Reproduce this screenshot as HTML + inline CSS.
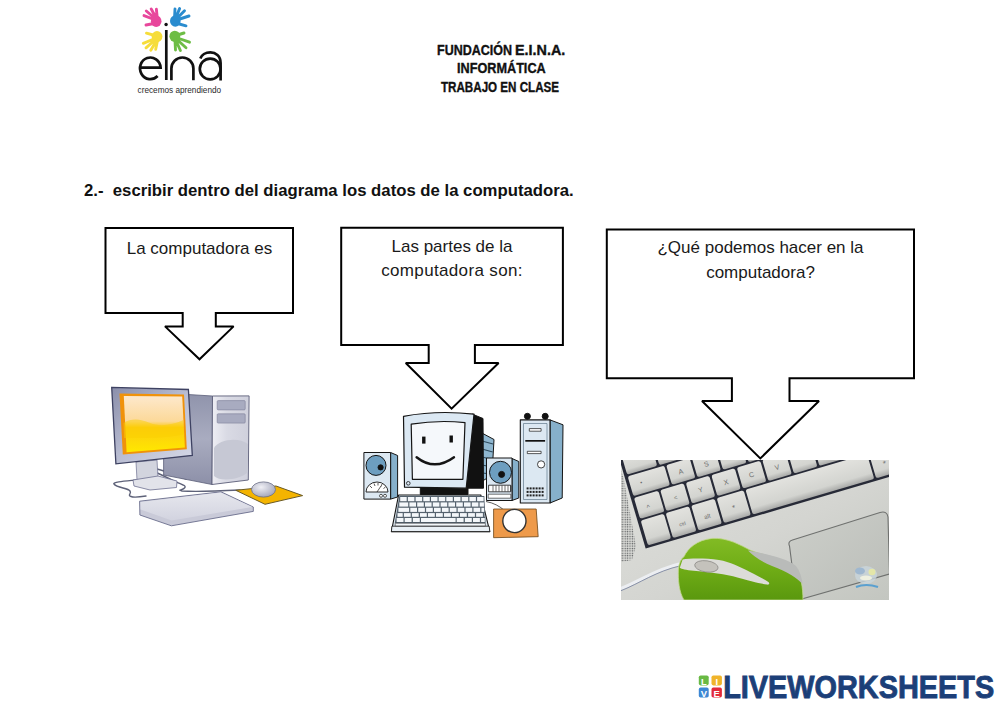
<!DOCTYPE html>
<html><head><meta charset="utf-8">
<style>
html,body{margin:0;padding:0;background:#fff;}
body{width:1000px;height:707px;position:relative;overflow:hidden;font-family:"Liberation Sans",sans-serif;}
.t{position:absolute;white-space:nowrap;line-height:1;}
.hd{font-weight:bold;font-size:14.5px;color:#111;-webkit-text-stroke:0.35px #111;transform-origin:0 0;}
.co{font-size:17px;color:#1a1a1a;text-align:center;line-height:23.7px;}
svg{position:absolute;left:0;top:0;}
</style></head><body>
<svg width="1000" height="707" viewBox="0 0 1000 707">
  <defs>
    <linearGradient id="side1" x1="0" y1="0" x2="0" y2="1">
      <stop offset="0" stop-color="#8f93ab"/><stop offset="0.5" stop-color="#a9acc0"/><stop offset="1" stop-color="#8d90a8"/>
    </linearGradient>
    <linearGradient id="front1" x1="0" y1="0" x2="1" y2="0">
      <stop offset="0" stop-color="#eeeef4"/><stop offset="0.4" stop-color="#d9dae4"/><stop offset="1" stop-color="#cfd0dc"/>
    </linearGradient>
    <linearGradient id="bez1" x1="0" y1="0" x2="1" y2="1">
      <stop offset="0" stop-color="#8a8eaa"/><stop offset="0.5" stop-color="#b9bdd2"/><stop offset="1" stop-color="#d6d9e8"/>
    </linearGradient>
    <linearGradient id="scr1" x1="0" y1="0" x2="0" y2="1">
      <stop offset="0" stop-color="#fde8cc"/><stop offset="0.45" stop-color="#fcd999"/><stop offset="0.56" stop-color="#fcca10"/><stop offset="1" stop-color="#ffe800"/>
    </linearGradient>
    <linearGradient id="kb1" x1="0" y1="0" x2="0" y2="1">
      <stop offset="0" stop-color="#e6e7ee"/><stop offset="1" stop-color="#d2d3df"/>
    </linearGradient>
    <radialGradient id="mouse1" cx="0.4" cy="0.35" r="0.7">
      <stop offset="0" stop-color="#f0f0f5"/><stop offset="1" stop-color="#a0a3b8"/>
    </radialGradient>
  </defs>
  <!-- IMAGE 1: desktop pc -->
  <g id="img1">
    <!-- cables -->
    <g fill="none" stroke="#5e6279" stroke-width="1.4" stroke-linecap="round">
      <path d="M136,480 C126,481 112,482 114,484 C117,488 128,488 130,491 C132,494 127,495 131,496.5 C134,498 140,497 146,496"/>
      <path d="M155,472 C162,475 168,478 176,482 C184,485 187,486 184,488.5 C180,490.5 178,490 182,491 C195,492 220,491 240,490"/>
      <path d="M157,469 C165,471 175,475 186,479"/>
    </g>
    <!-- tower side -->
    <polygon points="163.6,393 212.5,396 212,484.5 163.6,475" fill="url(#side1)" stroke="#5b5e78" stroke-width="0.8"/>
    <!-- tower front -->
    <polygon points="212.5,396 249.1,395.9 248.3,480 212,484.5" fill="url(#front1)" stroke="#5b5e78" stroke-width="0.9"/>
    <rect x="217.2" y="400.6" width="28" height="9.3" rx="1" fill="#a8abc0" stroke="#7d8099" stroke-width="0.6"/>
    <rect x="217.2" y="413.8" width="28" height="9.3" rx="1" fill="#a8abc0" stroke="#7d8099" stroke-width="0.6"/>
    <path d="M214,448 C218,440 238,436 248,444 L248,472 C240,480 220,482 214,476 Z" fill="#c6c8d4"/>
    <!-- monitor stand -->
    <polygon points="136,462 157,460 158,478 137,480" fill="#d2d4de" stroke="#6d7090" stroke-width="0.7"/>
    <polygon points="133,480 158,476 177,481 176.5,487.5 150,490 134,486" fill="#e2e3ea" stroke="#6d7090" stroke-width="0.8"/>
    <!-- monitor -->
    <polygon points="111.7,387.4 188.4,389.5 192.3,455.3 115.9,463.8" fill="url(#bez1)" stroke="#3e4262" stroke-width="1.3"/>
    <polygon points="119.5,393.5 184,394.4 186.8,449.3 122.8,454.6" fill="#f0920a"/>
    <polygon points="123.8,396 182.2,396.5 184.9,447.4 126.6,452.2" fill="url(#scr1)"/>
    <path d="M123.5,423 C132,418 140,419 150,423 C160,427 172,425 183.5,420 L184.2,434 C170,438 150,438 124.1,438 Z" fill="#fcd000" opacity="0.5"/>
    <!-- keyboard -->
    <polygon points="139.6,501.2 221,491.8 253.3,507 253.3,511.4 171.4,525.8 139.9,515" fill="#c9cad8" stroke="#6a6d8c" stroke-width="0.9"/>
    <polygon points="140.5,502 220.6,492.6 252.2,507 171.6,520.6 140.6,509.5" fill="url(#kb1)"/>
    <!-- mouse pad & mouse -->
    <polygon points="235.8,490.3 276,486 302.6,495.6 265,504.3" fill="#f4b400" stroke="#6b5a22" stroke-width="1"/>
    <ellipse cx="263.5" cy="489.5" rx="12" ry="7.6" fill="url(#mouse1)" stroke="#6a6d85" stroke-width="0.8"/>
  </g>
  <!-- IMAGE 2: cartoon pc -->
  <g id="img2" stroke="#151515" stroke-width="1" stroke-linejoin="round">
    <!-- left speaker -->
    <polygon points="390.6,452.5 397.6,455.5 397.6,497 390.6,499.1" fill="#86b0cb"/>
    <polygon points="363.9,452.5 390.6,452.5 390.6,499.1 363.9,499.1" fill="#dce8f2"/>
    <circle cx="376" cy="465.4" r="10" fill="#6d9ec0"/>
    <circle cx="380.6" cy="467.4" r="2.6" fill="#111"/>
    <path d="M366,492 A11,10 0 0 1 388,492 Z" fill="#fff" stroke-width="0.9"/>
    <path d="M370,486 L372,488 M374,483.5 L375,486 M378,483 L378,485.5 M382,484 L381,486.5 M385.5,487 L383.5,488.5 M377,492 L381,486" fill="none" stroke-width="0.7"/>
    <circle cx="381" cy="495.8" r="1.5" fill="#fff" stroke-width="0.7"/><circle cx="385" cy="495.8" r="1.5" fill="#fff" stroke-width="0.7"/>
    <!-- monitor back -->
    <polygon points="480,432 494,439.5 492,475 481,482" fill="#8fb7d0"/>
    <path d="M482,441 L493,444 M482,449 L492.7,452 M482,457 L492.4,459.5 M482,465 L492,467 M482,473 L491.6,474" fill="none" stroke="#2d4a5e" stroke-width="1.2"/>
    <polygon points="472,414 483,418.5 483.5,488.2 466,488.2" fill="#111"/>
    <!-- monitor base -->
    <polygon points="420.3,487 468,487 468,494.5 420.3,494.5" fill="#111"/>
    <!-- monitor front -->
    <path d="M403.5,416.3 Q438,410 474,414.2 L466.2,488.2 L404.5,487.2 Z" fill="#dbe8f3" stroke-width="1.2"/>
    <path d="M411.2,424.2 Q438,419.8 465,422.6 L462.9,479.3 L412.4,479.3 Z" fill="#f5f8fb" stroke-width="1.2"/>
    <rect x="422.1" y="436.6" width="3.4" height="7" fill="#111" stroke="none"/>
    <rect x="449.5" y="435.5" width="3.4" height="7" fill="#111" stroke="none"/>
    <path d="M416.6,457.2 Q434.5,471.5 454,457.2" fill="none" stroke-width="2.4" stroke-linecap="round"/>
    <circle cx="408.3" cy="483.3" r="1.8" fill="none" stroke-width="0.8"/>
    <!-- keyboard -->
    <polygon points="398.6,495 480.8,495 489.8,531.6 391.4,531.6" fill="#dde8f1" stroke-width="1.1"/>
    <polygon points="391.9,526.2 489.2,526.2 489.8,531.6 391.4,531.6" fill="#e9f0f6" stroke-width="0.8"/>
    <polygon points="399.3,496.1 484.3,496.1 485.6,523 394.8,523" fill="#55626e" stroke="none"/>
    <rect x="395.2" y="523.3" width="90.2" height="2.6" fill="#f2f6fa" stroke-width="0.5"/>
    <g fill="#f4f7fa" stroke="none">
<rect x="400.2" y="497.0" width="6.5" height="4.2"/>
<rect x="407.9" y="497.0" width="6.5" height="4.2"/>
<rect x="415.6" y="497.0" width="6.5" height="4.2"/>
<rect x="423.3" y="497.0" width="6.5" height="4.2"/>
<rect x="431.0" y="497.0" width="6.5" height="4.2"/>
<rect x="438.7" y="497.0" width="6.5" height="4.2"/>
<rect x="446.3" y="497.0" width="6.5" height="4.2"/>
<rect x="454.0" y="497.0" width="6.5" height="4.2"/>
<rect x="461.7" y="497.0" width="6.5" height="4.2"/>
<rect x="469.4" y="497.0" width="6.5" height="4.2"/>
<rect x="477.1" y="497.0" width="6.5" height="4.2"/>
<rect x="399.3" y="502.4" width="8.9" height="4.2"/>
<rect x="409.4" y="502.4" width="6.6" height="4.2"/>
<rect x="417.2" y="502.4" width="6.6" height="4.2"/>
<rect x="425.0" y="502.4" width="6.6" height="4.2"/>
<rect x="432.8" y="502.4" width="6.6" height="4.2"/>
<rect x="440.6" y="502.4" width="6.6" height="4.2"/>
<rect x="448.4" y="502.4" width="6.6" height="4.2"/>
<rect x="456.2" y="502.4" width="6.6" height="4.2"/>
<rect x="464.0" y="502.4" width="6.6" height="4.2"/>
<rect x="471.8" y="502.4" width="6.6" height="4.2"/>
<rect x="479.6" y="502.4" width="4.3" height="4.2"/>
<rect x="398.4" y="507.8" width="10.7" height="4.1"/>
<rect x="410.3" y="507.8" width="6.7" height="4.1"/>
<rect x="418.2" y="507.8" width="6.7" height="4.1"/>
<rect x="426.1" y="507.8" width="6.7" height="4.1"/>
<rect x="434.0" y="507.8" width="6.7" height="4.1"/>
<rect x="441.9" y="507.8" width="6.7" height="4.1"/>
<rect x="449.8" y="507.8" width="6.7" height="4.1"/>
<rect x="457.7" y="507.8" width="6.7" height="4.1"/>
<rect x="465.6" y="507.8" width="6.7" height="4.1"/>
<rect x="473.5" y="507.8" width="6.7" height="4.1"/>
<rect x="481.4" y="507.8" width="2.8" height="4.1"/>
<rect x="397.5" y="513.1" width="5.2" height="3.7"/>
<rect x="403.9" y="513.1" width="6.8" height="3.7"/>
<rect x="411.9" y="513.1" width="6.8" height="3.7"/>
<rect x="420.0" y="513.1" width="6.8" height="3.7"/>
<rect x="428.0" y="513.1" width="6.8" height="3.7"/>
<rect x="436.0" y="513.1" width="6.8" height="3.7"/>
<rect x="444.0" y="513.1" width="6.8" height="3.7"/>
<rect x="452.0" y="513.1" width="6.8" height="3.7"/>
<rect x="460.0" y="513.1" width="6.8" height="3.7"/>
<rect x="468.1" y="513.1" width="6.8" height="3.7"/>
<rect x="476.1" y="513.1" width="6.8" height="3.7"/>
<rect x="484.1" y="513.1" width="0.4" height="3.7"/>
<rect x="396.6" y="518.0" width="6.9" height="4.0"/>
<rect x="404.7" y="518.0" width="6.9" height="4.0"/>
<rect x="412.9" y="518.0" width="6.9" height="4.0"/>
<rect x="421.0" y="518.0" width="34.6" height="4.0"/>
<rect x="456.7" y="518.0" width="6.9" height="4.0"/>
<rect x="464.9" y="518.0" width="6.9" height="4.0"/>
<rect x="473.0" y="518.0" width="6.9" height="4.0"/>
<rect x="481.1" y="518.0" width="3.7" height="4.0"/>
    </g>
    <!-- right speaker -->
    <polygon points="512,458.5 518.8,461.5 518.8,498 512,500.5" fill="#86b0cb"/>
    <polygon points="486.5,458 512,458 512,500.5 486.5,500.5" fill="#dce8f2"/>
    <circle cx="500.5" cy="472.3" r="11" fill="#6d9ec0"/>
    <circle cx="501.6" cy="474.4" r="3" fill="#111"/>
    <rect x="488.6" y="485.2" width="22" height="6.6" fill="#fff" stroke-width="0.8"/>
    <path d="M493,485.5 v6 M496,485.5 v6 M499,485.5 v6 M502,485.5 v6 M505,485.5 v6 M508,485.5 v6 M511,485.5 v6" fill="none" stroke-width="0.6"/>
    <rect x="488.2" y="494.2" width="22.6" height="4" fill="#fff" stroke-width="0.6"/>
    <!-- tower -->
    <polygon points="550,419.9 563,424.8 562.2,498 550,503" fill="#86b0cb"/>
    <circle cx="527.4" cy="416.3" r="3" fill="#111"/><circle cx="545.2" cy="416.3" r="3" fill="#111"/>
    <polygon points="520.3,419.9 550,419.9 550,503 520.3,503" fill="#dce8f2" stroke-width="1.1"/>
    <rect x="523.5" y="423.5" width="23.5" height="76" fill="none" stroke="#4b6478" stroke-width="0.6"/>
    <rect x="529.3" y="428.6" width="11.8" height="2.6" fill="#fff" stroke-width="0.7"/>
    <rect x="525.3" y="440" width="19.8" height="1.7" fill="#111" stroke="none"/>
    <rect x="527.3" y="451.3" width="13.8" height="2.3" fill="#fff" stroke-width="0.7"/>
    <circle cx="541.1" cy="464.4" r="3.6" fill="#fff" stroke-width="0.8"/>
    <g fill="#222" stroke="none">
      <rect x="526.6" y="487.4" width="2" height="2"/><rect x="529.6" y="487.4" width="2" height="2"/><rect x="532.6" y="487.4" width="2" height="2"/><rect x="535.6" y="487.4" width="2" height="2"/><rect x="538.6" y="487.4" width="2" height="2"/><rect x="541.6" y="487.4" width="2" height="2"/>
      <rect x="526.6" y="490.9" width="2" height="2"/><rect x="529.6" y="490.9" width="2" height="2"/><rect x="532.6" y="490.9" width="2" height="2"/><rect x="535.6" y="490.9" width="2" height="2"/><rect x="538.6" y="490.9" width="2" height="2"/><rect x="541.6" y="490.9" width="2" height="2"/>
      <rect x="526.6" y="494.4" width="2" height="2"/><rect x="529.6" y="494.4" width="2" height="2"/><rect x="532.6" y="494.4" width="2" height="2"/><rect x="535.6" y="494.4" width="2" height="2"/><rect x="538.6" y="494.4" width="2" height="2"/><rect x="541.6" y="494.4" width="2" height="2"/>
    </g>
    <!-- mouse pad & mouse -->
    <path d="M486,501.5 Q497,503.5 505,511" fill="none" stroke="#333" stroke-width="0.8"/>
    <polygon points="493.6,509 536.2,509 538.2,536.7 493.6,537.7" fill="#ee9a4a" stroke="#6b4518" stroke-width="0.8"/>
    <circle cx="514.4" cy="521" r="11.6" fill="#fff" stroke="#333" stroke-width="1.4"/>
  </g>
  <!-- IMAGE 3: laptop photo -->
  <clipPath id="clip3"><rect x="621" y="460" width="268" height="140"/></clipPath>
  <linearGradient id="palm3" x1="0" y1="0" x2="1" y2="1">
    <stop offset="0" stop-color="#dfe0dc"/><stop offset="0.55" stop-color="#d4d5d1"/><stop offset="1" stop-color="#c3c6c0"/>
  </linearGradient>
  <linearGradient id="key3" x1="0" y1="0" x2="0" y2="1">
    <stop offset="0" stop-color="#e2e2de"/><stop offset="0.75" stop-color="#d3d4d0"/><stop offset="1" stop-color="#a9aaa8"/>
  </linearGradient>
  <linearGradient id="green3" x1="0" y1="0" x2="0" y2="1">
    <stop offset="0" stop-color="#82bb24"/><stop offset="0.5" stop-color="#6fac16"/><stop offset="1" stop-color="#5a980e"/>
  </linearGradient>
  <linearGradient id="pad3" x1="0" y1="0" x2="1" y2="1">
    <stop offset="0" stop-color="#cdcfca"/><stop offset="1" stop-color="#babdb8"/>
  </linearGradient>
  <pattern id="grille" width="2.4" height="2.4" patternUnits="userSpaceOnUse">
    <rect width="2.4" height="2.4" fill="#d8d9d5"/><circle cx="1.2" cy="1.2" r="0.7" fill="#5a5c5e"/>
  </pattern>
  <g id="img3" clip-path="url(#clip3)">
    <rect x="621" y="460" width="268" height="140" fill="url(#palm3)"/>
    <!-- speaker grille strip left -->
    <polygon points="621,470 624,480 636,546 632,560 621,562" fill="url(#grille)"/>
    <g transform="matrix(0.9593,-0.2823,0.2823,0.9593,647.7,547.4)">
      <rect x="-2.3" y="-180" width="350" height="180.6" fill="#272a37"/>
      <g fill="url(#key3)">
<rect x="0.8" y="-27.8" width="24.2" height="26.0" rx="2.2"/>
<rect x="26.9" y="-27.8" width="24.4" height="26.0" rx="2.2"/>
<rect x="53.5" y="-27.8" width="24.4" height="26.0" rx="2.2"/>
<rect x="80.1" y="-27.8" width="28.0" height="26.0" rx="2.2"/>
<rect x="110.1" y="-27.8" width="126.6" height="26.0" rx="2.2"/>
<rect x="238.7" y="-27.8" width="24.6" height="26.0" rx="2.2"/>
<rect x="265.3" y="-27.8" width="24.4" height="26.0" rx="2.2"/>
<rect x="291.9" y="-27.8" width="24.4" height="26.0" rx="2.2"/>
<rect x="0.8" y="-51.4" width="25.4" height="21.8" rx="2.2"/>
<rect x="28.2" y="-51.4" width="24.4" height="21.8" rx="2.2"/>
<rect x="54.8" y="-51.4" width="24.4" height="21.8" rx="2.2"/>
<rect x="81.4" y="-51.4" width="24.4" height="21.8" rx="2.2"/>
<rect x="108.0" y="-51.4" width="24.4" height="21.8" rx="2.2"/>
<rect x="134.6" y="-51.4" width="24.4" height="21.8" rx="2.2"/>
<rect x="161.2" y="-51.4" width="24.4" height="21.8" rx="2.2"/>
<rect x="187.8" y="-51.4" width="24.4" height="21.8" rx="2.2"/>
<rect x="214.4" y="-51.4" width="24.4" height="21.8" rx="2.2"/>
<rect x="241.0" y="-51.4" width="24.4" height="21.8" rx="2.2"/>
<rect x="267.6" y="-51.4" width="24.4" height="21.8" rx="2.2"/>
<rect x="294.2" y="-51.4" width="24.4" height="21.8" rx="2.2"/>
<rect x="320.8" y="-51.4" width="24.4" height="21.8" rx="2.2"/>
<rect x="0.8" y="-73.8" width="38.2" height="20.6" rx="2.2"/>
<rect x="41.0" y="-73.8" width="24.4" height="20.6" rx="2.2"/>
<rect x="67.6" y="-73.8" width="24.4" height="20.6" rx="2.2"/>
<rect x="94.2" y="-73.8" width="24.4" height="20.6" rx="2.2"/>
<rect x="120.8" y="-73.8" width="24.4" height="20.6" rx="2.2"/>
<rect x="147.4" y="-73.8" width="24.4" height="20.6" rx="2.2"/>
<rect x="174.0" y="-73.8" width="24.4" height="20.6" rx="2.2"/>
<rect x="200.6" y="-73.8" width="24.4" height="20.6" rx="2.2"/>
<rect x="227.2" y="-73.8" width="24.4" height="20.6" rx="2.2"/>
<rect x="253.8" y="-73.8" width="24.4" height="20.6" rx="2.2"/>
<rect x="280.4" y="-73.8" width="24.4" height="20.6" rx="2.2"/>
<rect x="307.0" y="-73.8" width="24.4" height="20.6" rx="2.2"/>
<rect x="0.8" y="-96.0" width="31.4" height="20.4" rx="2.2"/>
<rect x="34.4" y="-96.0" width="24.4" height="20.4" rx="2.2"/>
<rect x="61.0" y="-96.0" width="24.4" height="20.4" rx="2.2"/>
<rect x="87.6" y="-96.0" width="24.4" height="20.4" rx="2.2"/>
<rect x="114.2" y="-96.0" width="24.4" height="20.4" rx="2.2"/>
<rect x="140.8" y="-96.0" width="24.4" height="20.4" rx="2.2"/>
<rect x="167.4" y="-96.0" width="24.4" height="20.4" rx="2.2"/>
<rect x="194.0" y="-96.0" width="24.4" height="20.4" rx="2.2"/>
<rect x="220.6" y="-96.0" width="24.4" height="20.4" rx="2.2"/>
<rect x="247.2" y="-96.0" width="24.4" height="20.4" rx="2.2"/>
<rect x="273.8" y="-96.0" width="24.4" height="20.4" rx="2.2"/>
<rect x="300.4" y="-96.0" width="24.4" height="20.4" rx="2.2"/>
<rect x="0.8" y="-118.2" width="24.4" height="20.4" rx="2.2"/>
<rect x="27.4" y="-118.2" width="24.4" height="20.4" rx="2.2"/>
<rect x="54.0" y="-118.2" width="24.4" height="20.4" rx="2.2"/>
<rect x="80.6" y="-118.2" width="24.4" height="20.4" rx="2.2"/>
<rect x="107.2" y="-118.2" width="24.4" height="20.4" rx="2.2"/>
<rect x="133.8" y="-118.2" width="24.4" height="20.4" rx="2.2"/>
<rect x="160.4" y="-118.2" width="24.4" height="20.4" rx="2.2"/>
<rect x="187.0" y="-118.2" width="24.4" height="20.4" rx="2.2"/>
<rect x="213.6" y="-118.2" width="24.4" height="20.4" rx="2.2"/>
<rect x="240.2" y="-118.2" width="24.4" height="20.4" rx="2.2"/>
<rect x="266.8" y="-118.2" width="24.4" height="20.4" rx="2.2"/>
<rect x="293.4" y="-118.2" width="24.4" height="20.4" rx="2.2"/>
<rect x="320.0" y="-118.2" width="24.4" height="20.4" rx="2.2"/>
<rect x="0.8" y="-140.4" width="24.4" height="20.4" rx="2.2"/>
<rect x="27.4" y="-140.4" width="24.4" height="20.4" rx="2.2"/>
<rect x="54.0" y="-140.4" width="24.4" height="20.4" rx="2.2"/>
<rect x="80.6" y="-140.4" width="24.4" height="20.4" rx="2.2"/>
<rect x="107.2" y="-140.4" width="24.4" height="20.4" rx="2.2"/>
<rect x="133.8" y="-140.4" width="24.4" height="20.4" rx="2.2"/>
<rect x="160.4" y="-140.4" width="24.4" height="20.4" rx="2.2"/>
<rect x="187.0" y="-140.4" width="24.4" height="20.4" rx="2.2"/>
<rect x="213.6" y="-140.4" width="24.4" height="20.4" rx="2.2"/>
<rect x="240.2" y="-140.4" width="24.4" height="20.4" rx="2.2"/>
<rect x="266.8" y="-140.4" width="24.4" height="20.4" rx="2.2"/>
<rect x="293.4" y="-140.4" width="24.4" height="20.4" rx="2.2"/>
<rect x="320.0" y="-140.4" width="24.4" height="20.4" rx="2.2"/>
      </g>
      <g font-family="Liberation Sans" font-size="7" fill="#6b6c6c" text-anchor="middle">
        <text x="53.2" y="-61">A</text><text x="79.8" y="-61">S</text>
        <text x="67" y="-38">Y</text><text x="93.6" y="-38">X</text><text x="120.2" y="-38">C</text><text x="146.8" y="-38">V</text>
        <text x="12" y="-62" font-size="6">&#8226;</text><text x="12" y="-36" font-size="7">^</text>
        <text x="41" y="-38" font-size="6">&lt;</text>
        <text x="40" y="-11" font-size="5">ctrl</text><text x="66" y="-11" font-size="6">alt</text><text x="94" y="-11" font-size="8">*</text>
        <text x="251" y="-11" font-size="8">*</text>
      </g>
    </g>
    <!-- trackpad -->
    <path d="M789.5,546 Q787.5,541.5 792.5,540 L880,512.5 Q887,510.5 888,517 L889.5,574 L796.5,600.5 Z" fill="url(#pad3)" stroke="#6f716f" stroke-width="1.1"/>
    <!-- cable -->
    <path d="M621,588.5 C640,581 656,569 681,563.5" fill="none" stroke="#eceef2" stroke-width="3.2"/>
    <path d="M621,590.7 C640,583.2 656,571.2 681,565.7" fill="none" stroke="#7e88a3" stroke-width="0.9"/>
    <!-- mouse -->
    <path d="M748,551 C770,554 792,560 800,575 L803,600 L790,600 Z" fill="#c2c4c1"/>
    <path d="M684,556.6 C688,548 697,540 712,538.4 C728,537.5 740,545 750,550 C765,556 785,560 795,567 C801,574 803,588 803,600 L684,600 C679,592 678,580 678.4,569 C679,563 681,559 684,556.6 Z" fill="url(#green3)" stroke="#c3d98f" stroke-width="0.8"/>
    <path d="M748,550.5 C766,554 786,558 796,566 C800,571 802,578 802.5,584 C797,578 788,572 772,566 C762,562 753,556 748,550.5 Z" fill="#b9bbb9"/>
    <path d="M682.6,559.4 C690,558.5 705,558 719,560.1 C730,562 740,567 750,572 C758,576 764,579 768,581.8 C770,583 769.5,585 767,584.6 C760,583.5 750,581 733,576.2 C720,573.5 705,572 691,570.6 C684,569.8 680,568.5 679.8,567.8 Z" fill="#dcdcd8"/>
    <ellipse cx="706.4" cy="566.4" rx="11.8" ry="5.6" fill="#c4c2bc" stroke="#858480" stroke-width="0.7" transform="rotate(8 706.4 566.4)"/>
    <!-- sticker -->
    <g>
      <ellipse cx="866" cy="575" rx="11" ry="9" fill="#c9d6dc" opacity="0.8"/>
      <ellipse cx="860" cy="571" rx="5" ry="3.5" fill="#9fb8d0"/>
      <ellipse cx="872" cy="572" rx="3.5" ry="3.2" fill="#e4e6a8"/>
      <ellipse cx="866" cy="578" rx="6" ry="2.5" fill="#eef0e0"/>
      <path d="M856,587 Q866,583 878,587" fill="none" stroke="#5aa0d0" stroke-width="2.2"/>
    </g>
  </g>
  <!-- callouts -->
  <g fill="#fff" stroke="#000" stroke-width="2" stroke-linejoin="miter" stroke-miterlimit="2.4">
    <polygon points="105.5,228 293,228 293,313 215.8,313 215.8,326.4 233.6,326.4 199.5,359.3 165,326.4 182.7,326.4 182.7,313 105.5,313"/>
    <polygon points="341.2,227.7 562.9,227.7 562.9,344.9 474.9,344.9 474.9,363 498.6,363 451.6,408.6 405.75,363 428.7,363 428.7,344.9 341.2,344.9"/>
    <polygon points="606.8,229.6 914,229.6 914,378.3 789.5,378.3 789.5,401 819,401 760.3,458.4 702,401 731.9,401 731.9,378.3 606.8,378.3"/>
  </g>
  <!-- logo hands -->
  <g stroke-linecap="round" fill="none">
    <g stroke="#e8479c">
      <ellipse cx="156.2" cy="21.2" rx="5.3" ry="5.8" fill="#e8479c" stroke="none"/>
      <path d="M155.5,20 L144,15.6 M155.8,19 L146.3,11 M156.4,18.5 L151.2,9 M157.3,18.5 L156.4,9.3 M154,23.5 L146,25" stroke-width="2.9"/>
    </g>
    <g stroke="#2a8ccf">
      <ellipse cx="175.3" cy="21" rx="5.3" ry="5.8" fill="#2a8ccf" stroke="none"/>
      <path d="M174.5,18.5 L175,9 M175.5,18.5 L179.6,8.6 M176.3,19 L184.5,10.7 M176.7,20 L189,16 M177.5,23.5 L186,25.8" stroke-width="2.9"/>
    </g>
    <g stroke="#f6dd3a">
      <ellipse cx="157" cy="36.6" rx="5.4" ry="5.6" fill="#f6dd3a" stroke="none"/>
      <path d="M155,35.5 L146.5,33.2 M155,38.5 L143.3,43.3 M155.5,39.5 L146,47.8 M156.5,40.5 L150.8,50.2 M157.5,40.5 L155.7,49.3" stroke-width="2.9"/>
    </g>
    <g stroke="#6dbd45">
      <ellipse cx="174.8" cy="36.3" rx="5.4" ry="5.6" fill="#6dbd45" stroke="none"/>
      <path d="M177.5,35 L184,33 M177.5,38 L189.5,42.2 M177,39.5 L186,47.8 M176,40.5 L180.4,50.5 M175,40.5 L175.5,50" stroke-width="2.9"/>
    </g>
  </g>
  <!-- logo letters -->
  <g fill="none" stroke="#111" stroke-width="2.7">
    <circle cx="166.1" cy="24.5" r="1.7" fill="#111" stroke="none"/>
    <line x1="166.3" y1="30" x2="166.3" y2="80"/>
    <path d="M140.2,67.6 L160.6,67.6 A10.3,10.8 0 1 0 157.6,76"/>
    <path d="M171.4,80.3 L171.4,68.5 A11,11 0 0 1 193.4,68.5 L193.4,80.3"/>
    <circle cx="210.2" cy="69" r="10.4"/>
    <path d="M220.6,80.5 L220.6,63 C220.6,55.5 215.5,52.4 210.4,52.4 C205.5,52.4 201.5,55 200.3,58.5"/>
  </g>
  <text x="137.6" y="92.5" font-family="Liberation Sans" font-size="8.6" fill="#2a2a2a" textLength="83.5" lengthAdjust="spacingAndGlyphs">crecemos aprendiendo</text>
  <!-- liveworksheets logo -->
  <g font-family="Liberation Sans" font-weight="bold" font-size="9.4" fill="#fff" text-anchor="middle">
    <rect x="698.8" y="675.5" width="9.9" height="9.9" rx="1.8" fill="#69b944"/>
    <rect x="711.5" y="675.5" width="10.4" height="9.9" rx="1.8" fill="#f0b42a"/>
    <rect x="698.8" y="687.6" width="9.9" height="9.9" rx="1.8" fill="#3d87d4"/>
    <rect x="711.5" y="687.6" width="10.4" height="9.9" rx="1.8" fill="#e22a3a"/>
    <text x="703.8" y="684.6">L</text><text x="716.7" y="684.6">I</text>
    <text x="703.8" y="696.7">V</text><text x="716.7" y="696.7">E</text>
  </g>
  <text x="723.2" y="697.6" font-family="Liberation Sans" font-weight="bold" font-size="32" fill="#1c3f78" stroke="#1c3f78" stroke-width="0.9" textLength="271" lengthAdjust="spacingAndGlyphs">LIVEWORKSHEETS</text>
</svg>

<div class="t hd" id="h1" style="left:436.5px;top:43.4px;transform:scaleX(0.862);">FUNDACIÓN</div>
<div class="t hd" id="h1b" style="left:514.8px;top:43.4px;transform:scaleX(0.99);">E.I.N.A.</div>
<div class="t hd" id="h2" style="left:457.1px;top:60.8px;transform:scaleX(0.874);">INFORMÁTICA</div>
<div class="t hd" id="h3" style="left:441.1px;top:79.5px;transform:scaleX(0.801);">TRABAJO EN CLASE</div>

<div class="t" id="ins" style="left:84.2px;top:183.2px;font-weight:bold;font-size:16px;color:#111;transform:scaleX(1.045);transform-origin:0 0;">2.-&nbsp;&nbsp;escribir dentro del diagrama los datos de la computadora.</div>

<div class="t co" id="c1" style="left:106px;width:187px;top:237px;">La computadora es</div>
<div class="t co" id="c2" style="left:341px;width:222px;top:234.8px;">Las partes de la<br><span style="letter-spacing:0.35px">computadora son:</span></div>
<div class="t co" id="c3" style="left:607px;width:307px;top:236px;line-height:24.6px;">¿Qué podemos hacer en la<br>computadora?</div>

</body></html>
